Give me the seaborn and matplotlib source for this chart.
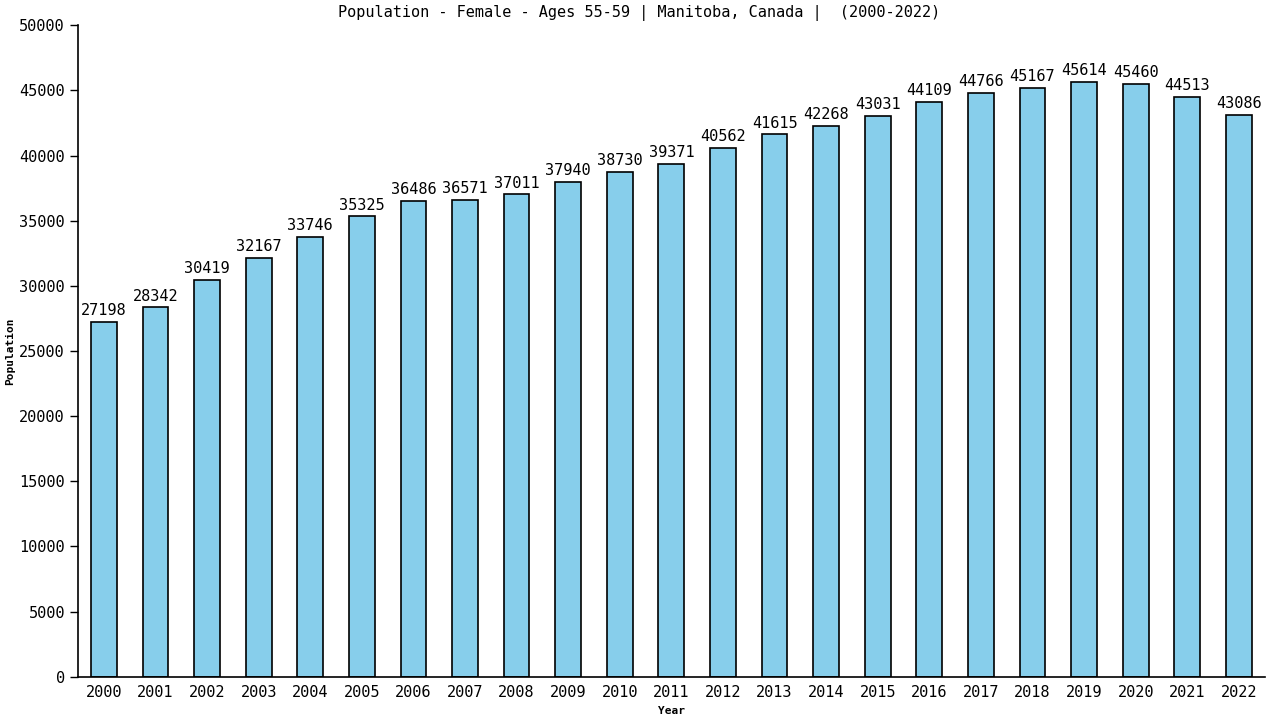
import matplotlib
matplotlib.use("Agg")
import matplotlib.pyplot as plt
import seaborn as sns
import pandas as pd

# Dados
anos = [str(a) for a in range(2000, 2023)]
populacao = [27198, 28342, 30419, 32167, 33746, 35325, 36486, 36571, 37011, 37940,
             38730, 39371, 40562, 41615, 42268, 43031, 44109, 44766, 45167, 45614,
             45460, 44513, 43086]

df = pd.DataFrame({"Year": anos, "Population": populacao})

sns.set_style("white")
plt.rcParams['font.family'] = ['DejaVu Sans Mono']
plt.rcParams['text.color'] = 'black'
plt.rcParams['axes.labelcolor'] = 'black'
plt.rcParams['xtick.color'] = 'black'
plt.rcParams['ytick.color'] = 'black'

fig = plt.figure(figsize=(12.8, 7.2), dpi=100)
ax = fig.add_axes([0.061, 0.06, 0.927, 0.905])

sns.barplot(data=df, x="Year", y="Population", color="#87CEEB", width=0.5,
            edgecolor="black", linewidth=1.2, saturation=1, ax=ax)

for i, v in enumerate(populacao):
    ax.text(i, v + 300, str(v), ha="center", va="bottom", fontsize=11)

ax.set_xlim(-0.5, 22.5)
ax.set_ylim(0, 50000)
ax.set_yticks(range(0, 50001, 5000))
ax.tick_params(axis="y", length=6, width=1, labelsize=11, direction="out", left=True)
ax.tick_params(axis="x", length=0, labelsize=11, pad=6)

for s in ["top", "right"]:
    ax.spines[s].set_visible(False)
for s in ["left", "bottom"]:
    ax.spines[s].set_color("black")
    ax.spines[s].set_linewidth(1.2)

ax.set_xlabel("Year", fontsize=8, fontweight="bold", labelpad=4)
ax.set_ylabel("Population", fontsize=8, fontweight="bold")
ax.yaxis.set_label_coords(-0.053, 0.5)
fig.suptitle("Population - Female - Ages 55-59 | Manitoba, Canada |  (2000-2022)",
             fontsize=11, x=0.499, y=0.993, va="top")

fig.savefig("out.png", dpi=100)
